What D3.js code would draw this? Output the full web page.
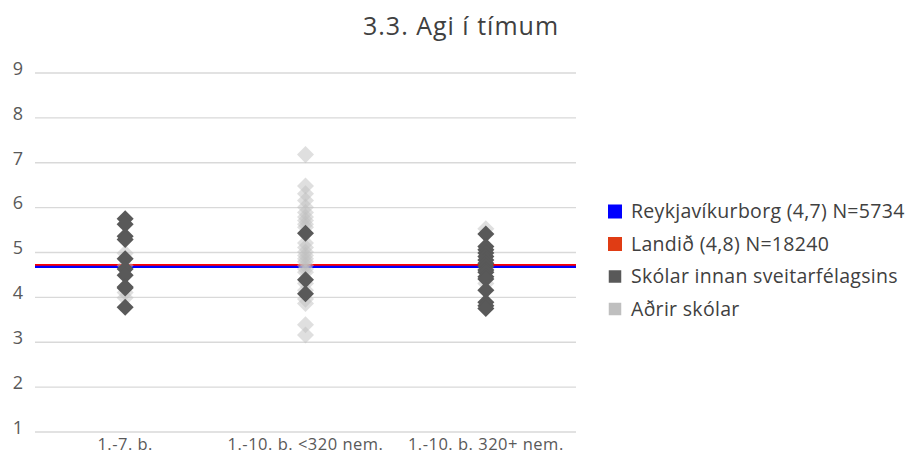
<!DOCTYPE html>
<html>
<head>
<meta charset="utf-8">
<script src="https://cdn.jsdelivr.net/npm/d3@7"></script>
<style>
  html, body { margin: 0; padding: 0; background: #fff; }
  svg { display: block; font-family: "Open Sans", "Noto Sans", sans-serif; }
</style>
</head>
<body>
<svg id="chart" width="909" height="454"></svg>
<script>
// ---- data ----
const title = "3.3. Agi í tímum";
const categories = ["1.-7. b.", "1.-10. b. <320 nem.", "1.-10. b. 320+ nem."];
const yTicks = [1, 2, 3, 4, 5, 6, 7, 8, 9];

const reykjavikValue = 4.67;
const landidValue = 4.71;

const skolarInnan1 = [5.74, 5.62, 5.35, 5.28, 4.85, 4.62, 4.48, 4.22, 4.2, 3.77];
const skolarInnan2 = [5.42, 4.38, 4.07];
const skolarInnan3 = [5.4, 5.12, 5.05, 4.98, 4.9, 4.82, 4.75, 4.68, 4.6, 4.55, 4.45, 4.4, 4.15, 3.88, 3.8, 3.74];

const adrir1 = [4.97, 4.7, 4.1, 3.98];
const adrir2 = [7.17, 6.47, 6.3, 6.15, 6.0, 5.88, 5.78, 5.7, 5.62, 5.55, 5.2, 5.1, 5.0, 4.92, 4.85, 4.78, 4.7, 4.62, 4.55, 4.3, 4.15, 3.95, 3.85, 3.38, 3.15];
const adrir3 = [5.52, 4.62, 4.3];

const legendLabels = ["Reykjavíkurborg (4,7) N=5734", "Landið (4,8) N=18240", "Skólar innan sveitarfélagsins", "Aðrir skólar"];

// ---- build ----
const skolarInnan = [skolarInnan1, skolarInnan2, skolarInnan3];
const adrir = [adrir1, adrir2, adrir3];
const toPoints = arr => arr.flatMap((vals, i) => vals.map(v => ({cat: categories[i], v})));

const FONT = "'Open Sans', 'Noto Sans', sans-serif";
const svg = d3.select("#chart");
const mLeft = 35, mRight = 576, mTop = 72.5, mBottom = 431.5;

const x = d3.scaleBand().domain(categories).range([mLeft, mRight]);
const y = d3.scaleLinear().domain([1, 9]).range([mBottom, mTop]);

// gridlines + y labels
const yAxis = svg.append("g")
  .attr("transform", `translate(${mLeft},0)`)
  .call(d3.axisLeft(y).tickValues(yTicks).tickSize(-(mRight - mLeft)).tickPadding(12).tickFormat(d3.format("d")));
yAxis.select(".domain").remove();
yAxis.selectAll(".tick line").attr("stroke", "#d9d9d9").attr("stroke-width", 1.3);
yAxis.selectAll(".tick text").attr("fill", "#595959").attr("y", -4)
  .style("font-size", "18px").style("font-family", FONT);

// x labels
const xAxis = svg.append("g")
  .attr("transform", `translate(0,${mBottom})`)
  .call(d3.axisBottom(x).tickSize(0).tickPadding(7));
xAxis.select(".domain").remove();
xAxis.selectAll(".tick text").attr("fill", "#595959")
  .style("font-size", "16.5px").style("letter-spacing", "0.5px").style("font-family", FONT);

// reference lines
const refs = [
  {v: landidValue, color: "#ff0000"},
  {v: reykjavikValue, color: "#0000ff"}
];
svg.append("g").selectAll("line").data(refs).join("line")
  .attr("x1", mLeft).attr("x2", mRight)
  .attr("y1", d => y(d.v)).attr("y2", d => y(d.v))
  .attr("stroke", d => d.color).attr("stroke-width", 2.2);

const diamond = d3.symbol().type(d3.symbolSquare).size(145);

svg.append("g").selectAll("path").data(toPoints(adrir)).join("path")
  .attr("d", diamond)
  .attr("transform", d => `translate(${x(d.cat) + x.bandwidth() / 2},${y(d.v)}) rotate(45)`)
  .attr("fill", "#bfbfbf").attr("fill-opacity", 0.5);

svg.append("g").selectAll("path").data(toPoints(skolarInnan)).join("path")
  .attr("d", diamond)
  .attr("transform", d => `translate(${x(d.cat) + x.bandwidth() / 2},${y(d.v)}) rotate(45)`)
  .attr("fill", "#595959");

// title
svg.append("text")
  .attr("x", 461).attr("y", 35)
  .attr("text-anchor", "middle")
  .attr("fill", "#404040")
  .style("font-size", "25px")
  .style("letter-spacing", "1px")
  .text(title);

// legend
const legendColors = ["#0000ff", "#e03c14", "#595959", "#bfbfbf"];
const legendSizes = [14, 14, 12.5, 12.5];
const lg = svg.append("g").selectAll("g").data(legendLabels).join("g")
  .attr("transform", (d, i) => `translate(608,${211.5 + i * 32.5})`);
lg.append("rect")
  .attr("x", (d, i) => (14 - legendSizes[i]) / 2)
  .attr("y", (d, i) => -legendSizes[i] / 2)
  .attr("width", (d, i) => legendSizes[i])
  .attr("height", (d, i) => legendSizes[i])
  .attr("fill", (d, i) => legendColors[i]);
lg.append("text")
  .attr("x", 23).attr("y", 0).attr("dy", "0.35em")
  .attr("fill", "#404040")
  .style("font-size", "19.5px")
  .style("letter-spacing", "0.3px")
  .text(d => d);
</script>
</body>
</html>
